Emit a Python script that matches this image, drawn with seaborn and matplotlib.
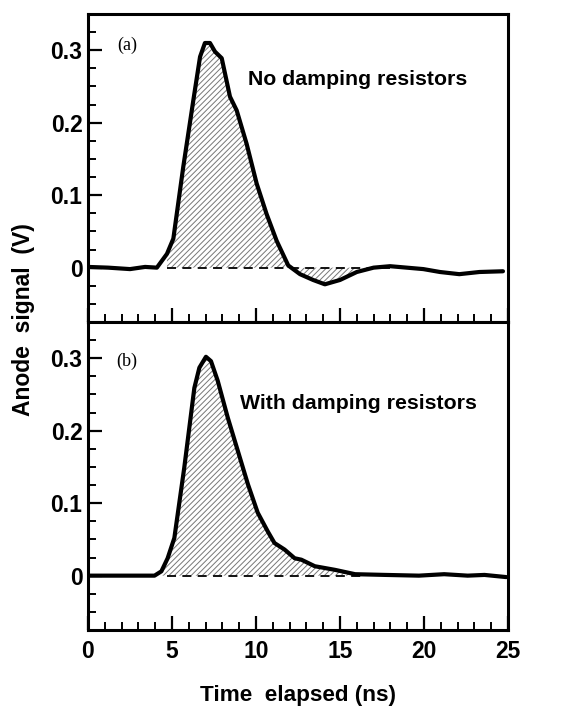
import numpy as np
import pandas as pd
import matplotlib
matplotlib.use("Agg")
import matplotlib.pyplot as plt
import seaborn as sns

# ---- data ----
t_a = [0.0, 1.2, 2.5, 3.4, 4.1, 4.7, 5.08, 5.67, 6.27, 6.67, 6.96, 7.26, 7.56, 7.96,
       8.45, 8.85, 9.44, 10.04, 10.63, 11.23, 11.92, 12.62, 13.4, 14.1, 15.0, 16.0,
       17.0, 17.98, 18.97, 19.96, 20.95, 22.1, 23.3, 24.7]
v_a = [0.001, 0.0, -0.002, 0.001, 0.0, 0.019, 0.04, 0.139, 0.231, 0.291, 0.31, 0.31,
       0.298, 0.289, 0.236, 0.217, 0.171, 0.116, 0.074, 0.037, 0.003, -0.009, -0.017,
       -0.023, -0.017, -0.006, 0.0, 0.002, 0.0, -0.002, -0.006, -0.009, -0.006, -0.005]

t_b = [0.0, 2.0, 3.96, 4.37, 4.74, 5.14, 5.73, 6.33, 6.63, 7.02, 7.32, 7.72, 8.32,
       8.92, 9.52, 10.1, 10.7, 11.1, 11.7, 12.3, 12.7, 13.5, 14.7, 15.9, 17.7, 19.7,
       21.2, 22.6, 23.6, 24.9]
v_b = [0.0, 0.0, 0.0, 0.006, 0.024, 0.052, 0.149, 0.259, 0.287, 0.302, 0.296, 0.269,
       0.218, 0.172, 0.126, 0.087, 0.061, 0.045, 0.036, 0.024, 0.022, 0.013, 0.008,
       0.002, 0.001, 0.0, 0.002, 0.0, 0.001, -0.002]

panel_tags = ["(a)", "(b)"]
panel_titles = ["No damping resistors", "With damping resistors"]
x_ticks = [0, 5, 10, 15, 20, 25]
y_ticks = [0, 0.1, 0.2, 0.3]
y_tick_labels = ["0", "0.1", "0.2", "0.3"]

sns.set_style("ticks")
plt.rcParams['font.family'] = ['Liberation Sans', 'DejaVu Sans']
plt.rcParams['hatch.linewidth'] = 0.7
plt.rcParams['hatch.color'] = '#777777'
plt.rcParams['text.color'] = 'black'
plt.rcParams['xtick.color'] = 'black'
plt.rcParams['ytick.color'] = 'black'

fig = plt.figure(figsize=(5.76, 7.09), dpi=100)
left, right = 88 / 576, 508 / 576
ax_a = fig.add_axes([left, 1 - 322 / 709, right - left, 308 / 709])
ax_b = fig.add_axes([left, 1 - 630 / 709, right - left, 308 / 709], sharex=ax_a)

datasets = [(t_a, v_a, ax_a, (4.3, 16.6), (4.7, 18.0), (1.73, 0.307), (9.5, 0.259)),
            (t_b, v_b, ax_b, (4.0, 16.2), (4.7, 16.4), (1.67, 0.296), (9.05, 0.237))]

for i, (t, v, ax, frange, drange, tagpos, titlepos) in enumerate(datasets):
    df = pd.DataFrame({"t": t, "v": v})
    tt = np.array(t); vv = np.array(v)
    m = (tt >= frange[0]) & (tt <= frange[1])
    ax.fill_between(tt[m], vv[m], 0, facecolor='white', edgecolor='#777777',
                    hatch='//////', linewidth=0, zorder=1)
    ax.plot(drange, [0, 0], color='black', lw=1.3, ls=(0, (5, 3.5)), zorder=2)
    sns.lineplot(data=df, x="t", y="v", ax=ax, color='black', lw=3.0, zorder=3)
    ax.set_xlim(0, 25)
    ax.set_ylim(-0.075, 0.35)
    ax.set_xticks(x_ticks)
    ax.set_xticks(np.arange(0, 26, 1), minor=True)
    ax.set_yticks(y_ticks)
    ax.set_yticklabels(y_tick_labels)
    ax.set_yticks(np.arange(-0.075, 0.351, 0.025), minor=True)
    ax.tick_params(axis='both', which='major', direction='in', length=10, width=1.6,
                   labelsize=16.5)
    ax.tick_params(axis='y', which='major', pad=4)
    ax.tick_params(axis='x', which='major', pad=7)
    ax.tick_params(axis='both', which='minor', direction='in', length=5.5, width=1.4)
    for lab in ax.get_xticklabels() + ax.get_yticklabels():
        lab.set_fontweight('bold')
    for sp in ax.spines.values():
        sp.set_visible(True)
        sp.set_linewidth(2.2)
        sp.set_color('black')
    ax.set_xlabel("")
    ax.set_ylabel("")
    ax.text(tagpos[0], tagpos[1], panel_tags[i], family='Liberation Serif',
            fontsize=13, va='center', ha='left')
    ax.text(titlepos[0], titlepos[1], panel_titles[i], fontsize=15.3,
            fontweight='bold', va='center', ha='left')

ax_a.tick_params(axis='x', labelbottom=False)

fig.text(24 / 576, 1 - 320 / 709, "Anode  signal  (V)", rotation=90, va='center',
         ha='center', fontsize=16.5, fontweight='bold')
fig.text((88 + 508) / 2 / 576, 1 - 695 / 709, "Time  elapsed (ns)", va='center',
         ha='center', fontsize=16.2, fontweight='bold')

fig.savefig("out.png", dpi=100)
